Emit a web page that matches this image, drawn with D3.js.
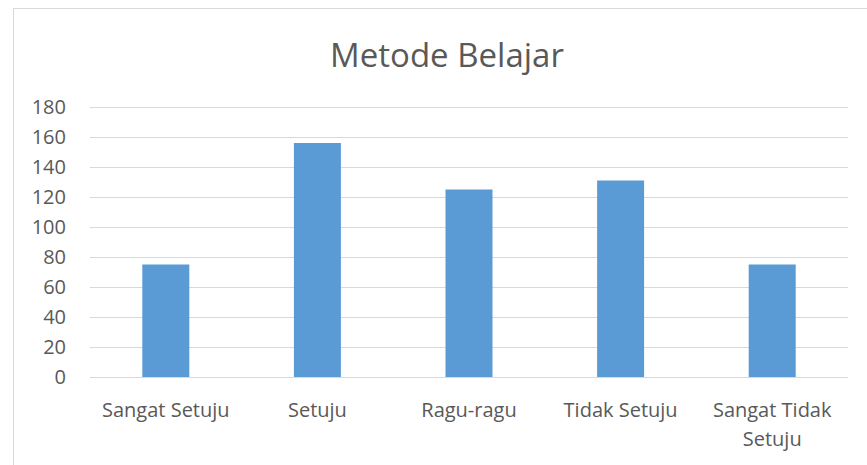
<!DOCTYPE html>
<html>
<head>
<meta charset="utf-8">
<script src="https://cdn.jsdelivr.net/npm/d3@7"></script>
<style>
  html, body { margin: 0; padding: 0; background: #fff; }
  svg { display: block; }
  text { font-family: "Open Sans", "Noto Sans", sans-serif; fill: #595959; }
</style>
</head>
<body>
<svg id="chart" width="867" height="465"></svg>
<script>
// chart data
const categories = ["Sangat Setuju", "Setuju", "Ragu-ragu", "Tidak Setuju", "Sangat Tidak Setuju"];
const values = [75, 156, 125, 131, 75];
const yTicks = [0, 20, 40, 60, 80, 100, 120, 140, 160, 180];
const title = "Metode Belajar";

const width = 867, height = 465;
const margin = { left: 90, right: 19, top: 107, bottom: 88 };
const labelSize = "20px";

const svg = d3.select("#chart");

// chart frame
svg.append("rect")
  .attr("x", 13.5).attr("y", 8.5)
  .attr("width", width + 10).attr("height", height + 10)
  .attr("fill", "none")
  .attr("stroke", "#d9d9d9");

const x = d3.scaleBand()
  .domain(categories)
  .range([margin.left, width - margin.right])
  .paddingInner(0.69)
  .paddingOuter(0.345);

const y = d3.scaleLinear()
  .domain([0, 180])
  .range([height - margin.bottom, margin.top]);

// gridlines
svg.append("g")
  .selectAll("line")
  .data(yTicks)
  .join("line")
  .attr("x1", margin.left).attr("x2", width - margin.right)
  .attr("y1", d => Math.round(y(d)) + 0.5)
  .attr("y2", d => Math.round(y(d)) + 0.5)
  .attr("stroke", "#d9d9d9")
  .attr("stroke-width", 1);

// y axis labels
const yAxis = d3.axisLeft(y).tickValues(yTicks).tickSize(0).tickPadding(0);
const gy = svg.append("g")
  .attr("transform", `translate(${margin.left - 24},0)`)
  .call(yAxis);
gy.select(".domain").remove();
gy.selectAll("text")
  .style("font-size", labelSize)
  .style("font-family", "'Open Sans', sans-serif")
  .attr("fill", "#595959");

// bars
svg.append("g")
  .selectAll("rect")
  .data(values)
  .join("rect")
  .attr("x", (d, i) => x(categories[i]))
  .attr("width", x.bandwidth())
  .attr("y", d => y(d))
  .attr("height", d => y(0) - y(d))
  .attr("fill", "#5b9bd5");

// x axis labels (wrapped)
const xAxis = d3.axisBottom(x).tickSize(0).tickPadding(0);
const gx = svg.append("g")
  .attr("transform", `translate(0,${y(0)})`)
  .call(xAxis);
gx.select(".domain").remove();
gx.selectAll("text")
  .style("font-size", labelSize)
  .style("font-family", "'Open Sans', sans-serif")
  .attr("fill", "#595959")
  .attr("dy", null)
  .attr("y", 40)
  .each(function() { wrap(d3.select(this), x.step() - 6); });

function wrap(text, maxWidth) {
  const words = text.text().split(/\s+/);
  text.text(null);
  let line = [];
  let lineNo = 0;
  let tspan = text.append("tspan").attr("x", 0).attr("y", 40);
  words.forEach(w => {
    line.push(w);
    tspan.text(line.join(" "));
    if (tspan.node().getComputedTextLength() > maxWidth && line.length > 1) {
      line.pop();
      tspan.text(line.join(" "));
      line = [w];
      lineNo++;
      tspan = text.append("tspan").attr("x", 0).attr("y", 40 + lineNo * 29).text(w);
    }
  });
}

// title
svg.append("text")
  .attr("x", 447)
  .attr("y", 67)
  .attr("text-anchor", "middle")
  .style("font-size", "33px")
  .text(title);
</script>
</body>
</html>
